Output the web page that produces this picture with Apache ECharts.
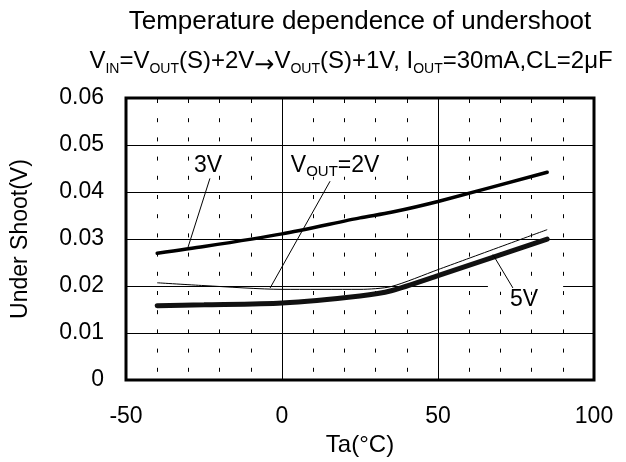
<!DOCTYPE html>
<html><head><meta charset="utf-8">
<script src="https://cdn.jsdelivr.net/npm/echarts@6/dist/echarts.min.js"></script>
<style>html,body{margin:0;padding:0;background:#fff}#c{width:626px;height:462px}</style>
</head><body><div id="c"></div>
<script>
const tempC = [-40, -25, 0, 25, 35, 50, 85];
const v3 = [0.0270, 0.0284, 0.0311, 0.0345, 0.0357, 0.0380, 0.0442];
const v2 = [0.0207, 0.0201, 0.0193, 0.0193, 0.0199, 0.0235, 0.0320];
const v5 = [0.0158, 0.0160, 0.0164, 0.0179, 0.0190, 0.0222, 0.0300];
const xTicks = [-50, 0, 50, 100];
const yTicks = [0, 0.01, 0.02, 0.03, 0.04, 0.05, 0.06];
const seriesNames = ['3V', 'VOUT=2V', '5V'];

const F = 'Liberation Sans, Arial, sans-serif';
const pairs = v => tempC.map((t, i) => [t, v[i]]);

const chart = echarts.init(document.getElementById('c'));
chart.setOption({
  animation: false,
  backgroundColor: '#fff',
  title: [
    { text: 'Temperature dependence of undershoot', left: 355, top: 4, textAlign: 'center',
      textStyle: { fontFamily: F, fontSize: 26, fontWeight: 'normal', color: '#000' } },
    { text: '{n|V}{s|IN}{n|=V}{s|OUT}{n|(S)+2V}{a|→}{n|V}{s|OUT}{n|(S)+1V, I}{s|OUT}{n|=30mA,CL=2μF}',
      left: 346, top: 40, textAlign: 'center',
      textStyle: { fontFamily: F, fontWeight: 'normal', color: '#000',
        rich: {
          n: { fontFamily: F, fontSize: 24, color: '#000', lineHeight: 28, verticalAlign: 'bottom' },
          s: { fontFamily: F, fontSize: 14, color: '#000', lineHeight: 28, verticalAlign: 'bottom', padding: [0, 0, -3, 0] },
          a: { fontFamily: 'DejaVu Sans', fontSize: 24, color: '#000', lineHeight: 28, verticalAlign: 'bottom', padding: [0, 0, -5, 0] }
        } } }
  ],
  grid: { left: 126, right: 32, top: 98, bottom: 76, show: true, borderColor: '#000', borderWidth: 3, backgroundColor: 'transparent' },
  xAxis: {
    type: 'value', min: xTicks[0], max: xTicks[xTicks.length - 1], interval: 50,
    name: 'Ta(°C)', nameLocation: 'middle', nameGap: 45,
    nameTextStyle: { fontFamily: F, fontSize: 24, color: '#000' },
    axisLine: { show: false }, axisTick: { show: false },
    axisLabel: { fontFamily: F, fontSize: 23, color: '#000', margin: 25 },
    splitLine: { show: true, lineStyle: { color: '#000', width: 1 } },
    minorTick: { show: false, splitNumber: 5 },
    minorSplitLine: { show: true, lineStyle: { color: '#000', width: 1, type: [4, 15.2], dashOffset: 18.2 } }
  },
  yAxis: {
    type: 'value', min: yTicks[0], max: yTicks[yTicks.length - 1], interval: 0.01,
    name: 'Under Shoot(V)', nameLocation: 'middle', nameGap: 94,
    nameTextStyle: { fontFamily: F, fontSize: 23, color: '#000' },
    axisLine: { show: false }, axisTick: { show: false },
    axisLabel: { fontFamily: F, fontSize: 23, color: '#000', margin: 22,
      formatter: v => String(Math.round(v * 100) / 100) },
    splitLine: { show: true, lineStyle: { color: '#000', width: 1 } }
  },
  series: [
    { name: seriesNames[2], type: 'line', data: pairs(v5), showSymbol: false, smooth: 0.25, z: 3,
      lineStyle: { color: '#111', width: 5, cap: 'round' } },
    { name: seriesNames[0], type: 'line', data: pairs(v3), showSymbol: false, smooth: 0.25, z: 4,
      lineStyle: { color: '#000', width: 3.5, cap: 'round' } },
    { name: seriesNames[1], type: 'line', data: pairs(v2), showSymbol: false, smooth: 0.25, z: 5,
      lineStyle: { color: '#000', width: 1 } }
  ]
});

// annotations in data coordinates
const annot = [
  { text: '{n|3V}', pos: [-23.7, 0.0458], align: 'center', from: [-23.1, 0.0429], to: [-30.1, 0.0283] },
  { text: '{n|V}{s|OUT}{n|=2V}', pos: [2.2, 0.0458], align: 'left', from: [15.4, 0.0423], to: [-3.8, 0.0196], bg: true },
  { text: '{n|5V}', pos: [77.6, 0.0172], align: 'center', from: [74.0, 0.0196], to: [67.6, 0.0267], gap: [66.0, 90.1] }
];
const px = p => chart.convertToPixel({ xAxisIndex: 0, yAxisIndex: 0 }, p);
const elements = [];
annot.forEach(a => {
  if (a.gap) {
    const g1 = px([a.gap[0], 0.0212]), g2 = px([a.gap[1], 0.0188]);
    elements.push({ type: 'rect', z: 10, shape: { x: g1[0], y: g1[1], width: g2[0] - g1[0], height: g2[1] - g1[1] }, style: { fill: '#fff' } });
  }
  const f = px(a.from), t = px(a.to), p = px(a.pos);
  elements.push({ type: 'line', z: 11, shape: { x1: f[0], y1: f[1], x2: t[0], y2: t[1] }, style: { stroke: '#000', lineWidth: 1 } });
  elements.push({ type: 'text', z: 12, x: p[0], y: p[1], style: {
    text: a.text, align: a.align, verticalAlign: 'middle',
    backgroundColor: a.bg ? '#fff' : 'transparent', padding: a.bg ? [0, 2] : 0,
    rich: {
      n: { fontFamily: F, fontSize: 23, fill: '#000', lineHeight: 24, verticalAlign: 'bottom' },
      s: { fontFamily: F, fontSize: 15, fill: '#000', lineHeight: 24, verticalAlign: 'bottom', padding: [0, 0, -3, 0] }
    } } });
});
chart.setOption({ graphic: { elements } });
</script>
</body></html>
